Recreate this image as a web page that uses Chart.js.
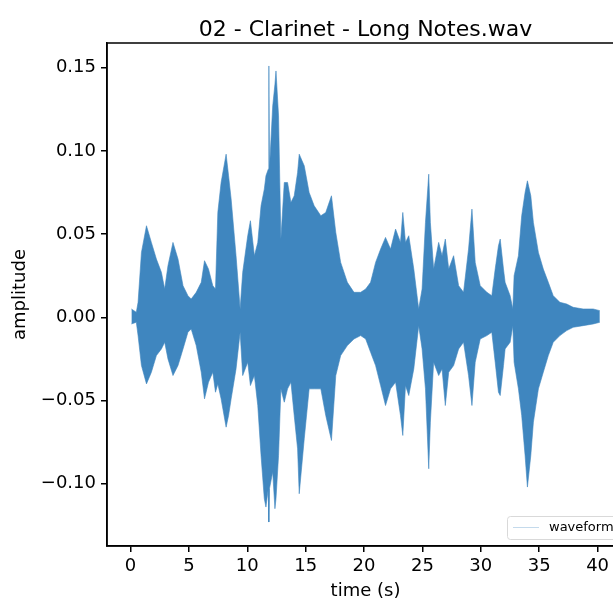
<!DOCTYPE html>
<html lang="en">
<head>
  <meta charset="UTF-8">
  <title>02 - Clarinet - Long Notes.wav</title>
  <script src="https://cdn.jsdelivr.net/npm/chart.js"></script>
  <style>
    html, body { margin: 0; padding: 0; background: #fff; overflow: hidden; }
    canvas { display: block; }
  </style>
</head>
<body>
  <canvas id="waveChart" width="640" height="600"></canvas>

  <script>
    // envelope of the waveform (seconds, amplitude)
    const times = [0.08, 0.5, 0.65, 0.94, 1.37, 1.79, 2.22, 2.65, 2.93, 3.21, 3.64, 4.07, 4.5, 4.92, 5.2, 5.63,
      6.06, 6.34, 6.68, 7.05, 7.28, 7.48, 7.76, 8.19, 8.4, 8.62, 9.04, 9.39, 9.61, 10.04, 10.27, 10.61, 10.9,
      11.18, 11.46, 11.6, 11.8, 11.85, 11.9, 12.18, 12.37, 12.46, 12.68, 12.88, 13.17, 13.45, 13.74, 14.02,
      14.31, 14.45, 14.88, 15.3, 15.73, 16.3, 16.72, 17.21, 17.58, 18.0, 18.57, 19.14, 19.71, 20.14, 20.56,
      20.99, 21.42, 21.84, 22.27, 22.7, 23.12, 23.32, 23.55, 23.83, 24.26, 24.68, 24.97, 25.26, 25.54, 25.68,
      25.96, 26.39, 26.68, 26.96, 27.25, 27.67, 28.1, 28.52, 28.95, 29.24, 29.52, 29.95, 30.52, 30.94, 31.23,
      31.51, 31.66, 31.94, 32.08, 32.51, 32.74, 32.85, 33.22, 33.5, 33.79, 33.99, 34.28, 34.5, 34.93, 35.35,
      35.78, 36.2, 36.77, 37.35, 37.91, 38.76, 39.62, 40.19];
    const upper = [0.005, 0.003, 0.009, 0.039, 0.055, 0.045, 0.035, 0.027, 0.017, 0.031, 0.045, 0.035, 0.019, 0.013, 0.011, 0.015,
      0.021, 0.034, 0.029, 0.019, 0.017, 0.063, 0.081, 0.098, 0.085, 0.071, 0.037, 0.005, 0.027, 0.049, 0.058, 0.037, 0.045,
      0.067, 0.077, 0.085, 0.089, 0.151, 0.089, 0.127, 0.140, 0.148, 0.121, 0.047, 0.081, 0.081, 0.069, 0.073,
      0.087, 0.098, 0.091, 0.075, 0.067, 0.061, 0.063, 0.073, 0.051, 0.033, 0.021, 0.015, 0.015, 0.017, 0.021,
      0.033, 0.041, 0.048, 0.041, 0.053, 0.045, 0.063, 0.045, 0.049, 0.029, 0.005, 0.017, 0.057, 0.086, 0.057,
      0.029, 0.045, 0.037, 0.047, 0.029, 0.037, 0.019, 0.015, 0.041, 0.065, 0.033, 0.019, 0.015, 0.013, 0.029,
      0.043, 0.047, 0.029, 0.021, 0.013, 0.005, 0.025, 0.037, 0.061, 0.075, 0.082, 0.073, 0.057, 0.039, 0.029,
      0.021, 0.013, 0.009, 0.008, 0.006, 0.005, 0.005, 0.004];
    const lower = [-0.004, -0.003, -0.011, -0.029, -0.040, -0.033, -0.023, -0.019, -0.015, -0.025, -0.035, -0.029, -0.019, -0.009, -0.007, -0.017,
      -0.033, -0.049, -0.039, -0.033, -0.045, -0.040, -0.049, -0.066, -0.059, -0.049, -0.031, -0.009, -0.035, -0.027, -0.041, -0.035, -0.053,
      -0.083, -0.109, -0.114, -0.103, -0.123, -0.103, -0.093, -0.115, -0.109, -0.083, -0.043, -0.051, -0.043, -0.039, -0.059,
      -0.079, -0.106, -0.073, -0.043, -0.043, -0.043, -0.059, -0.074, -0.035, -0.023, -0.017, -0.013, -0.011, -0.013, -0.021,
      -0.029, -0.041, -0.053, -0.043, -0.039, -0.059, -0.071, -0.041, -0.047, -0.031, -0.005, -0.019, -0.043, -0.091, -0.063,
      -0.027, -0.035, -0.031, -0.053, -0.033, -0.029, -0.019, -0.015, -0.035, -0.053, -0.027, -0.013, -0.011, -0.009, -0.027,
      -0.045, -0.047, -0.029, -0.019, -0.015, -0.005, -0.027, -0.043, -0.059, -0.083, -0.102, -0.083, -0.063, -0.043, -0.033,
      -0.023, -0.015, -0.011, -0.008, -0.006, -0.005, -0.004, -0.003];

    const xTicks = [0, 5, 10, 15, 20, 25, 30, 35, 40];
    const yTicks = [-0.10, -0.05, 0.00, 0.05, 0.10, 0.15];

    const waveColor = "rgb(63,134,191)";
    const font = "DejaVu Sans";

    // frame, title, axis labels and legend like matplotlib
    const decor = {
      id: "decor",
      afterDraw(chart) {
        const { ctx, chartArea: a } = chart;
        ctx.save();
        ctx.strokeStyle = "#000";
        ctx.lineWidth = 1.5;
        ctx.strokeRect(a.left, a.top, a.right - a.left, a.bottom - a.top);

        ctx.fillStyle = "#000";
        ctx.textAlign = "center";
        ctx.textBaseline = "alphabetic";
        ctx.font = `22px '${font}'`;
        ctx.fillText("02 - Clarinet - Long Notes.wav", (a.left + a.right) / 2, 36);

        ctx.font = `18px '${font}'`;
        ctx.textBaseline = "middle";
        ctx.fillText("time (s)", (a.left + a.right) / 2, 591);
        ctx.translate(20, (a.top + a.bottom) / 2);
        ctx.rotate(-Math.PI / 2);
        ctx.fillText("amplitude", 0, 0);
        ctx.restore();

        // legend box, bottom right
        ctx.save();
        const bx = 507.5, by = 516.5, bw = 125, bh = 23;
        ctx.fillStyle = "rgba(255,255,255,0.8)";
        ctx.strokeStyle = "#d9d9d9";
        ctx.lineWidth = 1;
        ctx.beginPath();
        ctx.roundRect(bx, by, bw, bh, 3);
        ctx.fill();
        ctx.stroke();
        ctx.strokeStyle = "rgb(196,218,236)";
        ctx.beginPath();
        ctx.moveTo(513, 527.5);
        ctx.lineTo(539, 527.5);
        ctx.stroke();
        ctx.fillStyle = "#000";
        ctx.font = `13px '${font}'`;
        ctx.textBaseline = "middle";
        ctx.textAlign = "left";
        ctx.fillText("waveform", 549, 528);
        ctx.restore();
      }
    };

    new Chart(document.getElementById("waveChart"), {
      type: "line",
      data: {
        datasets: [
          {
            label: "waveform",
            data: times.map((t, i) => ({ x: t, y: upper[i] })),
            borderColor: waveColor,
            backgroundColor: waveColor,
            borderWidth: 0.6,
            pointRadius: 0,
            tension: 0,
            fill: "+1"
          },
          {
            label: "lower",
            data: times.map((t, i) => ({ x: t, y: lower[i] })),
            borderColor: waveColor,
            borderWidth: 0.6,
            pointRadius: 0,
            tension: 0,
            fill: false
          }
        ]
      },
      options: {
        responsive: false,
        animation: false,
        layout: { padding: { top: 43, right: 16, left: 0, bottom: 0 } },
        plugins: { legend: { display: false }, tooltip: { enabled: false } },
        scales: {
          x: {
            type: "linear",
            min: -2.01,
            max: 42.26,
            afterBuildTicks: s => { s.ticks = xTicks.map(v => ({ value: v })); },
            afterFit: s => { s.height = 54; },
            grid: { drawOnChartArea: false, drawTicks: true, tickLength: 6, color: "#000", lineWidth: 1.5 },
            border: { display: true, color: "#000", width: 1.5 },
            ticks: { color: "#000", padding: 4, maxRotation: 0, font: { family: font, size: 18 }, callback: v => String(v) }
          },
          y: {
            type: "linear",
            min: -0.1374,
            max: 0.1648,
            afterBuildTicks: s => { s.ticks = yTicks.map(v => ({ value: v })); },
            afterFit: s => { s.width = 107; },
            grid: { drawOnChartArea: false, drawTicks: true, tickLength: 6, color: "#000", lineWidth: 1.5 },
            border: { display: true, color: "#000", width: 1.5 },
            ticks: {
              color: "#000", padding: 5, font: { family: font, size: 18 },
              callback: v => (v < 0 ? "\u2212" : "") + Math.abs(v).toFixed(2)
            }
          }
        }
      },
      plugins: [decor]
    });
  </script>
</body>
</html>
